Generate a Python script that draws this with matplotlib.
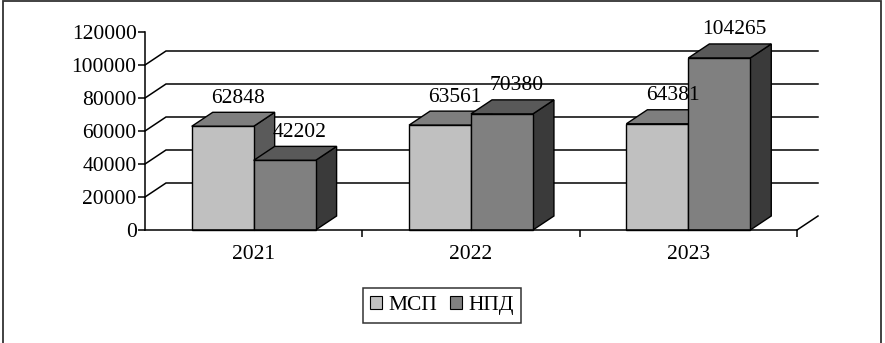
import matplotlib
matplotlib.use("Agg")
import matplotlib.pyplot as plt
from matplotlib.patches import Polygon, Patch, Rectangle

years = ["2021", "2022", "2023"]
msp = [62848, 63561, 64381]
npd = [42202, 70380, 104265]
series_names = ["МСП", "НПД"]

plt.rcParams['font.family'] = ['Liberation Serif', 'DejaVu Serif']
plt.rcParams['font.size'] = 15.5

fig = plt.figure(figsize=(8.85, 3.43), dpi=100)
ax = fig.add_axes([145/885, 113/343, 652/885, 198/343])
ax.set_xlim(-0.5, 2.5)
ax.set_ylim(0, 120000)

# depth of the 3d effect (data units)
dx = 0.0966
dy = 8485
bw = 0.285

# back wall gridlines
for v in range(20000, 120000, 20000):
    ax.plot([-0.5, -0.5 + dx, 2.5 + dx], [v, v + dy, v + dy], color='black', lw=1.1,
            clip_on=False, zorder=1, solid_joinstyle='miter')
ax.plot([2.5, 2.5 + dx], [0, dy], color='black', lw=1.1, clip_on=False, zorder=1)

styles = [
    dict(front='#c0c0c0', top='#7e7e7e', side='#5a5a5a'),
    dict(front='#808080', top='#595959', side='#3a3a3a'),
]

def bar3d(x0, h, st, z):
    x1 = x0 + bw
    front = [(x0, 0), (x1, 0), (x1, h), (x0, h)]
    top = [(x0, h), (x1, h), (x1 + dx, h + dy), (x0 + dx, h + dy)]
    side = [(x1, 0), (x1 + dx, dy), (x1 + dx, h + dy), (x1, h)]
    for pts, c in ((side, st['side']), (top, st['top']), (front, st['front'])):
        ax.add_patch(Polygon(pts, closed=True, facecolor=c, edgecolor='black',
                             lw=1.0, clip_on=False, zorder=z, joinstyle='miter'))

z = 3
for i in range(len(years)):
    for j, vals in enumerate((msp, npd)):
        x0 = i - bw + j * bw
        bar3d(x0, vals[i], styles[j], z)
        z += 1
        ax.text(x0 + bw / 2 + 0.07, vals[i] + dy + 2800, str(vals[i]),
                ha='center', va='bottom', zorder=20, clip_on=False)

for s in ('top', 'right'):
    ax.spines[s].set_visible(False)
ax.spines['left'].set_linewidth(1.1)
ax.spines['bottom'].set_linewidth(1.1)
ax.spines['left'].set_zorder(30)
ax.spines['bottom'].set_zorder(30)

ax.set_yticks(range(0, 120001, 20000))
ax.set_yticklabels([str(v) for v in range(0, 120001, 20000)])
ax.tick_params(axis='y', direction='out', length=5, width=1.1, pad=1)
ax.set_xticks(range(len(years)))
ax.set_xticklabels(years)
ax.set_xticks([0.5, 1.5, 2.5], minor=True)
ax.tick_params(axis='x', which='major', length=0, pad=11)
ax.tick_params(axis='x', which='minor', direction='out', length=5, width=1.1)

handles = [Patch(facecolor=styles[0]['front'], edgecolor='black', lw=0.8),
           Patch(facecolor=styles[1]['front'], edgecolor='black', lw=0.8)]
leg = fig.legend(handles, series_names, loc='center', bbox_to_anchor=(442/885, 1 - 305.5/343),
                 ncol=2, frameon=True, fancybox=False, handlelength=0.55, handleheight=0.55,
                 handletextpad=0.3, columnspacing=0.6, borderpad=0.35, fontsize=15.5)
leg.get_frame().set_edgecolor('black')
leg.get_frame().set_linewidth(1.1)

fig.add_artist(Rectangle((2.5/885, -0.05), 878/885, 1.05 - 1.5/343, transform=fig.transFigure,
                         fill=False, edgecolor='#333333', lw=1.3))

fig.savefig('out.png', dpi=100)
